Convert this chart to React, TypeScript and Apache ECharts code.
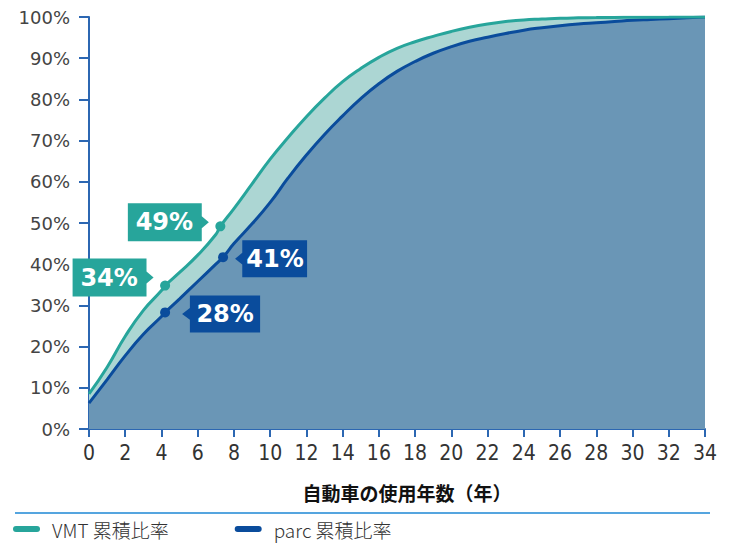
import React, { useEffect, useRef } from 'react';
import * as echarts from 'echarts';

// ---- data ----
const years = [0, 1, 2, 3, 4, 5, 6, 7, 8, 9, 10, 11, 12, 13, 14, 15, 16, 17, 18, 19, 20, 21, 22, 23, 24, 25, 26, 27, 28, 29, 30, 31, 32, 33, 34];
const vmtShare = [8.5, 15, 22.5, 28.8, 33.6, 38, 42.2, 47.2, 53.5, 59.5, 65.5, 70.8, 75.8, 80.3, 84.3, 87.5, 90.2, 92.4, 94, 95.3, 96.5, 97.5, 98.3, 98.9, 99.3, 99.5, 99.7, 99.8, 99.85, 99.9, 99.93, 99.95, 99.97, 99.99, 100];
const parcShare = [6.3, 12, 17.8, 23, 27.3, 31.6, 35.8, 40, 45, 49.8, 55, 61, 66.5, 71.5, 76, 80.2, 83.8, 86.8, 89.2, 91.2, 92.8, 94.1, 95.1, 96, 96.8, 97.4, 97.9, 98.3, 98.6, 98.9, 99.2, 99.4, 99.6, 99.8, 100];

const vmtCalloutYears = [4.2, 7.25];
const vmtCalloutValues = [34.8, 49.2];
const vmtCalloutLabels = ['34%', '49%'];
const parcCalloutYears = [4.2, 7.4];
const parcCalloutValues = [28.3, 41.7];
const parcCalloutLabels = ['28%', '41%'];

const xTickInterval = 2;
const yTickInterval = 10;
const seriesNames = ['VMT 累積比率', 'parc 累積比率'];
const xAxisName = '自動車の使用年数（年）';

// ---- styles ----
const TEAL = '#27a59b';
const TEAL_LIGHT = '#acd6d3';
const NAVY = '#0a4c9c';
const STEEL = '#6a96b6';
const AXIS = '#2c67b2';

const CALLOUT_RIGHT = 'path://M0 0 H73 V13 L80 19 L73 25 V38 H0 Z';
const CALLOUT_LEFT = 'path://M8 0 H80 V38 H8 V25 L0 19 L8 13 Z';

function merge(xs: number[], ys: number[], cx: number[], cy: number[]) {
  const pts = xs.map((x, i) => [x, ys[i]]);
  cx.forEach((x, i) => pts.push([x, cy[i]]));
  pts.sort((a, b) => a[0] - b[0]);
  return pts;
}

const labelFont = {
  color: '#ffffff',
  fontSize: 24,
  fontWeight: 'bold' as const,
  fontFamily: '"DejaVu Sans", sans-serif',
};

export default function App() {
  const ref = useRef<HTMLDivElement>(null);
  useEffect(() => {
    if (!ref.current) return;
    const chart = echarts.init(ref.current, undefined, { renderer: 'svg' });
    const vmtData = merge(years, vmtShare, vmtCalloutYears, vmtCalloutValues);
    const parcData = merge(years, parcShare, parcCalloutYears, parcCalloutValues);

    const vmtOffsets = [[-52, -8], [-52, -4]];
    const parcOffsets = [[56, 1.5], [48, 1.5]];
    const parcSizes = [[78, 37], [72, 37]];

    const vmtMarks: any[] = [];
    vmtCalloutYears.forEach((x, i) => {
      vmtMarks.push({
        name: vmtCalloutLabels[i],
        coord: [x, vmtCalloutValues[i]],
        symbol: CALLOUT_RIGHT,
        symbolSize: [81, 38],
        symbolOffset: vmtOffsets[i],
        itemStyle: { color: TEAL },
        label: { show: true, position: 'inside', formatter: '{b}', offset: [-4, 0], ...labelFont },
      });
      vmtMarks.push({
        name: 'dot' + i,
        coord: [x, vmtCalloutValues[i]],
        symbol: 'circle',
        symbolSize: 10,
        itemStyle: { color: TEAL },
        label: { show: false },
      });
    });
    const parcMarks: any[] = [];
    parcCalloutYears.forEach((x, i) => {
      parcMarks.push({
        name: parcCalloutLabels[i],
        coord: [x, parcCalloutValues[i]],
        symbol: CALLOUT_LEFT,
        symbolSize: parcSizes[i],
        symbolOffset: parcOffsets[i],
        itemStyle: { color: NAVY },
        label: { show: true, position: 'inside', formatter: '{b}', offset: [4, 0], ...labelFont },
      });
      parcMarks.push({
        name: 'pdot' + i,
        coord: [x, parcCalloutValues[i]],
        symbol: 'circle',
        symbolSize: 10,
        itemStyle: { color: NAVY },
        label: { show: false },
      });
    });

    const smoothing = 0.5;

    chart.setOption({
      animation: false,
      grid: { left: 89, right: 25, top: 17, bottom: 117, containLabel: false },
      xAxis: {
        type: 'value',
        min: 0,
        max: 34,
        interval: xTickInterval,
        name: xAxisName,
        nameLocation: 'middle',
        nameGap: 54,
        nameTextStyle: {
          fontSize: 19,
          fontWeight: 'bold',
          color: '#111',
          fontFamily: '"Noto Sans CJK JP", sans-serif',
          padding: [0, 0, 0, 20],
        },
        axisLine: { show: true, lineStyle: { color: AXIS, width: 2 } },
        axisTick: { show: true, length: 8, lineStyle: { color: AXIS, width: 2 } },
        axisLabel: {
          margin: 13,
          fontSize: 21,
          color: '#333',
          fontFamily: '"Liberation Sans Narrow", "DejaVu Sans Condensed", sans-serif',
          showMaxLabel: true,
          showMinLabel: true,
        },
        splitLine: { show: false },
      },
      yAxis: {
        type: 'value',
        min: 0,
        max: 100,
        interval: yTickInterval,
        axisLine: { show: true, lineStyle: { color: AXIS, width: 2 } },
        axisTick: { show: true, length: 10, lineStyle: { color: AXIS, width: 2 } },
        axisLabel: {
          formatter: '{value}%',
          margin: 19,
          fontSize: 18,
          color: '#444',
          fontFamily: '"DejaVu Sans", sans-serif',
        },
        splitLine: { show: false },
      },
      legend: {
        left: 13,
        top: 519,
        padding: 0,
        itemWidth: 27,
        itemHeight: 6,
        itemGap: 66,
        icon: 'path://M3 0 H24 A3 3 0 0 1 24 6 H3 A3 3 0 0 1 3 0 Z',
        textStyle: {
          fontSize: 19,
          lineHeight: 20,
          fontWeight: 300,
          color: '#333',
          fontFamily: '"Noto Sans CJK JP", sans-serif',
          padding: [0, 0, 0, 7],
        },
        data: [
          { name: seriesNames[0], itemStyle: { color: TEAL } },
          { name: seriesNames[1], itemStyle: { color: NAVY } },
        ],
      },
      graphic: [
        {
          type: 'line',
          shape: { x1: 15, y1: 513, x2: 710, y2: 513 },
          style: { stroke: '#55a5df', lineWidth: 2 },
          silent: true,
        },
      ],
      series: [
        {
          name: 'VMT area',
          type: 'line',
          data: vmtData,
          smooth: smoothing,
          symbol: 'none',
          lineStyle: { width: 0 },
          areaStyle: { color: TEAL_LIGHT, opacity: 1 },
          z: 1,
          silent: true,
        },
        {
          name: seriesNames[1],
          type: 'line',
          data: parcData,
          smooth: smoothing,
          symbol: 'none',
          color: NAVY,
          lineStyle: { color: NAVY, width: 3 },
          areaStyle: { color: STEEL, opacity: 1 },
          z: 2,
          markPoint: { data: parcMarks, silent: true },
        },
        {
          name: seriesNames[0],
          type: 'line',
          data: vmtData,
          smooth: smoothing,
          symbol: 'none',
          color: TEAL,
          lineStyle: { color: TEAL, width: 3 },
          z: 3,
          markPoint: { data: vmtMarks, silent: true },
        },
      ],
    });
    return () => chart.dispose();
  }, []);
  return (
    <div
      ref={ref}
      style={{ position: 'fixed', left: 0, top: 0, width: 730, height: 546, background: '#fff' }}
    />
  );
}
